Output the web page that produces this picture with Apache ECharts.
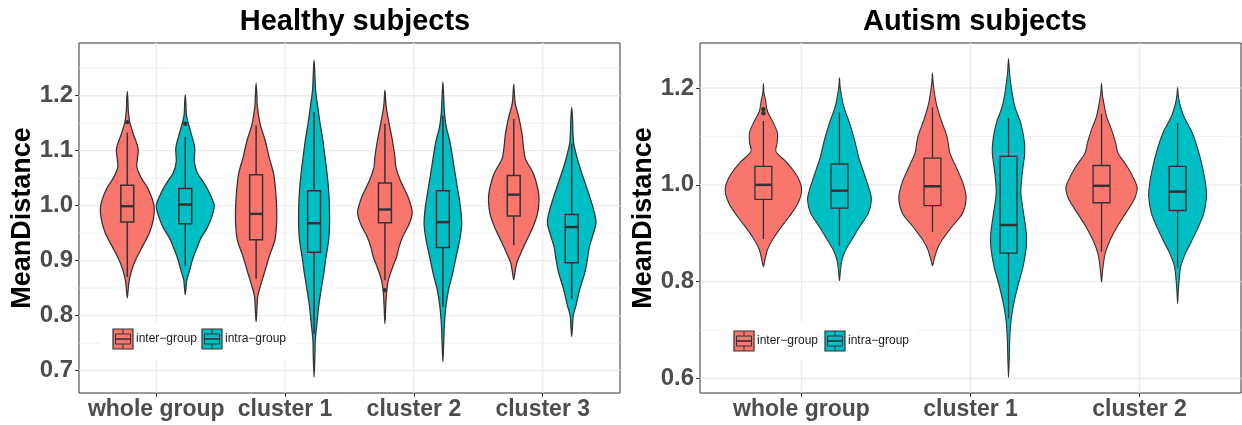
<!DOCTYPE html>
<html>
<head>
<meta charset="utf-8">
<script src="https://cdn.jsdelivr.net/npm/echarts@6/dist/echarts.min.js"></script>
<style>
  html, body { margin: 0; padding: 0; background: #ffffff; }
  #chart { width: 1242px; height: 425px; }
</style>
</head>
<body>
<div id="chart"></div>
<script>
// ---------- data ----------
const healthyCategories = ['whole group', 'cluster 1', 'cluster 2', 'cluster 3'];
const autismCategories = ['whole group', 'cluster 1', 'cluster 2'];
const groupNames = ['inter\u2212group', 'intra\u2212group'];
const groupColors = ['#F8766D', '#00BFC4'];

const healthyTicks = [0.7, 0.8, 0.9, 1.0, 1.1, 1.2];
const healthyMinorTicks = [0.75, 0.85, 0.95, 1.05, 1.15, 1.25];
const autismTicks = [0.6, 0.8, 1.0, 1.2];
const autismMinorTicks = [0.7, 0.9, 1.1];

// box statistics per category: [lower whisker, Q1, median, Q3, upper whisker]
const healthyInterStats = [
  [0.870, 0.970, 0.999, 1.037, 1.133],
  [0.867, 0.938, 0.985, 1.056, 1.146],
  [0.864, 0.969, 0.993, 1.041, 1.149],
  [0.928, 0.981, 1.020, 1.055, 1.158]
];
const healthyIntraStats = [
  [0.890, 0.967, 1.002, 1.031, 1.125],
  [0.767, 0.915, 0.968, 1.027, 1.170],
  [0.816, 0.924, 0.970, 1.027, 1.164],
  [0.831, 0.896, 0.961, 0.984, 1.113]
];
const autismInterStats = [
  [0.888, 0.970, 1.000, 1.038, 1.132],
  [0.903, 0.957, 0.997, 1.055, 1.160],
  [0.862, 0.963, 0.998, 1.040, 1.147]
];
const autismIntraStats = [
  [0.874, 0.952, 0.988, 1.043, 1.150],
  [0.724, 0.859, 0.917, 1.059, 1.138],
  [0.828, 0.947, 0.986, 1.038, 1.128]
];

// outlying points
const healthyInterOutliers = [[1.152], [], [0.846], []];
const healthyIntraOutliers = [[1.149], [], [], []];
const autismInterOutliers = [[1.148, 1.156], [], []];
const autismIntraOutliers = [[], [], []];

// violin density profiles: [MeanDistance, half width in hundredths of a category]
const healthyInterDensity = [
  [[1.208,0],[1.19,0.5],[1.175,0.7],[1.152,1.9],[1.13,4.7],[1.11,7.8],[1.10,8.5],[1.085,7.8],[1.07,7.4],[1.05,10.9],[1.03,16.3],[1.00,20.7],[0.975,20.2],[0.95,17.1],[0.925,11.6],[0.90,6.2],[0.88,3.1],[0.86,1.2],[0.845,0.6],[0.832,0]],
  [[1.223,0],[1.20,0.6],[1.182,0.9],[1.149,3.1],[1.119,7.0],[1.088,10.1],[1.058,13.6],[1.028,15.1],[0.998,15.9],[0.967,15.9],[0.937,14.5],[0.907,10.1],[0.876,6.2],[0.852,3.1],[0.834,1.2],[0.81,0.6],[0.788,0]],
  [[1.210,0],[1.19,0.6],[1.176,1.2],[1.149,3.3],[1.119,5.8],[1.088,7.8],[1.07,8.5],[1.046,11.9],[1.016,17.9],[0.988,21.2],[0.967,18.9],[0.943,13.7],[0.925,11.0],[0.907,9.1],[0.888,6.0],[0.864,2.6],[0.84,1.2],[0.815,0.6],[0.785,0]],
  [[1.221,0],[1.20,0.6],[1.185,1.2],[1.161,3.9],[1.131,6.4],[1.101,7.8],[1.085,9.1],[1.058,15.3],[1.028,18.9],[1.01,19.6],[0.985,18.4],[0.961,14.9],[0.937,10.1],[0.913,5.4],[0.895,2.3],[0.876,0.8],[0.865,0]]
];
const healthyIntraDensity = [
  [[1.202,0],[1.185,0.5],[1.165,0.9],[1.15,2.3],[1.13,4.7],[1.11,7.0],[1.10,7.4],[1.08,7.0],[1.06,9.3],[1.04,14.8],[1.02,19.4],[1.00,22.5],[0.98,20.6],[0.96,17.1],[0.94,12.0],[0.92,8.5],[0.90,5.4],[0.88,3.1],[0.865,1.2],[0.85,0.6],[0.838,0]],
  [[1.265,0],[1.24,0.6],[1.21,1.2],[1.179,2.9],[1.149,4.7],[1.119,6.8],[1.088,8.5],[1.058,10.1],[1.028,11.3],[0.998,11.9],[0.967,12.0],[0.937,11.3],[0.907,9.3],[0.876,7.5],[0.846,5.4],[0.816,3.5],[0.785,2.2],[0.755,0.9],[0.724,0.6],[0.688,0]],
  [[1.225,0],[1.20,0.6],[1.17,1.2],[1.143,2.6],[1.119,5.2],[1.088,7.5],[1.058,9.5],[1.028,11.6],[0.998,13.6],[0.967,14.6],[0.937,13.0],[0.907,10.3],[0.876,7.5],[0.846,4.3],[0.816,2.3],[0.785,1.2],[0.755,0.7],[0.716,0]],
  [[1.179,0],[1.16,0.6],[1.137,0.9],[1.113,1.6],[1.082,4.8],[1.052,8.8],[1.022,13.2],[0.992,17.1],[0.970,18.9],[0.949,16.8],[0.925,13.7],[0.903,12.2],[0.879,10.3],[0.849,6.4],[0.818,3.3],[0.80,1.2],[0.78,0.6],[0.762,0]]
];
const autismInterDensity = [
  [[1.209,0],[1.19,0.3],[1.176,1.2],[1.152,2.4],[1.128,5.9],[1.107,8.3],[1.086,8.1],[1.069,7.4],[1.045,14.2],[1.017,20.1],[0.99,22.6],[0.962,20.4],[0.934,15.2],[0.907,9.3],[0.886,5.3],[0.866,2.4],[0.845,0.9],[0.831,0]],
  [[1.231,0],[1.215,0.3],[1.197,0.9],[1.169,2.2],[1.134,5.1],[1.10,8.6],[1.066,10.3],[1.038,13.8],[1.003,18.1],[0.972,19.9],[0.941,17.7],[0.914,11.6],[0.886,5.7],[0.866,2.7],[0.845,0.9],[0.833,0]],
  [[1.21,0],[1.19,0.4],[1.172,1.2],[1.141,3.0],[1.114,5.9],[1.086,8.4],[1.066,9.7],[1.038,15.2],[1.01,19.5],[0.993,21.1],[0.969,19.2],[0.941,14.2],[0.914,9.3],[0.886,5.1],[0.859,2.2],[0.831,0.9],[0.81,0.3],[0.799,0]]
];
const autismIntraDensity = [
  [[1.221,0],[1.205,0.3],[1.19,0.9],[1.162,2.5],[1.128,5.9],[1.093,8.9],[1.059,11.2],[1.024,14.5],[0.99,17.7],[0.969,18.9],[0.941,17.0],[0.914,12.0],[0.886,7.2],[0.866,3.7],[0.845,1.5],[0.824,0.6],[0.802,0]],
  [[1.261,0],[1.231,0.6],[1.197,1.8],[1.162,3.7],[1.128,7.2],[1.093,9.2],[1.066,9.6],[1.024,8.1],[0.983,7.3],[0.941,8.9],[0.90,10.5],[0.872,10.5],[0.831,8.6],[0.79,5.4],[0.748,2.7],[0.714,1.3],[0.679,0.7],[0.638,0.4],[0.602,0]],
  [[1.201,0],[1.185,0.4],[1.169,1.2],[1.141,3.7],[1.107,8.7],[1.072,12.1],[1.038,14.6],[1.003,16.5],[0.976,17.1],[0.941,15.5],[0.907,11.5],[0.879,7.6],[0.859,4.7],[0.831,1.8],[0.803,0.9],[0.78,0.4],[0.755,0]]
];

// ---------- styling ----------
const FONT = "'Liberation Sans', Arial, Helvetica, sans-serif";
const INK = '#333333';
const GRID_COLOR = '#EBEBEB';
const DODGE = 0.225;      // offset of each group from the category centre
const BOX_HALF = 0.05;    // half box width, in category units

function violinSeries(gridIndex, stats, density, outliers, offset, color, name, lineScale) {
  return {
    type: 'custom',
    name: name,
    xAxisIndex: gridIndex,
    yAxisIndex: gridIndex,
    z: 3,
    silent: true,
    data: stats.map((s, i) => [i + 1 + offset].concat(s)),
    encode: { x: 0, y: [1, 2, 3, 4, 5] },
    renderItem: function (params, api) {
      const i = params.dataIndex;
      const x = api.value(0);
      const lo = api.value(1), q1 = api.value(2), med = api.value(3), q3 = api.value(4), hi = api.value(5);
      const prof = density[i];
      const right = prof.map(p => api.coord([x + p[1] / 100, p[0]]));
      const left = prof.slice(1, -1).reverse().map(p => api.coord([x - p[1] / 100, p[0]]));
      const pts = right.concat(left);
      const cx = api.coord([x, med])[0];
      const tl = api.coord([x - BOX_HALF, q3]);
      const br = api.coord([x + BOX_HALF, q1]);
      const yMed = api.coord([x, med])[1];
      const yHi = api.coord([x, hi])[1];
      const yLo = api.coord([x, lo])[1];
      const lw = 1.1 * lineScale;
      const children = [
        { type: 'polygon', shape: { points: pts, smooth: 0.3 },
          style: { fill: color, stroke: INK, lineWidth: lw } },
        { type: 'line', shape: { x1: cx, y1: yHi, x2: cx, y2: tl[1] },
          style: { stroke: INK, lineWidth: 1.3 * lineScale } },
        { type: 'line', shape: { x1: cx, y1: br[1], x2: cx, y2: yLo },
          style: { stroke: INK, lineWidth: 1.3 * lineScale } },
        { type: 'rect', shape: { x: tl[0], y: tl[1], width: br[0] - tl[0], height: br[1] - tl[1] },
          style: { fill: color, stroke: INK, lineWidth: 1.3 * lineScale } },
        { type: 'line', shape: { x1: tl[0], y1: yMed, x2: br[0], y2: yMed },
          style: { stroke: INK, lineWidth: 2.5 } }
      ];
      (outliers[i] || []).forEach(v => {
        const p = api.coord([x, v]);
        children.push({ type: 'circle', shape: { cx: p[0], cy: p[1], r: 2.2 }, style: { fill: INK } });
      });
      return { type: 'group', children: children };
    }
  };
}

function gridLineSeries(gridIndex, categories, ticks, minorTicks) {
  const data = []
    .concat(minorTicks.map(v => [1, v, 0]))
    .concat(ticks.map(v => [1, v, 1]))
    .concat(categories.map((c, i) => [i + 1, 1, 2]));
  return {
    type: 'custom',
    xAxisIndex: gridIndex,
    yAxisIndex: gridIndex,
    z: 1,
    silent: true,
    data: data,
    renderItem: function (params, api) {
      const cs = params.coordSys;
      const kind = api.value(2);
      if (kind === 2) {
        const px = api.coord([api.value(0), api.value(1)])[0];
        return { type: 'line', shape: { x1: px, y1: cs.y, x2: px, y2: cs.y + cs.height },
                 style: { stroke: GRID_COLOR, lineWidth: 1.3 } };
      }
      const py = api.coord([api.value(0), api.value(1)])[1];
      return { type: 'line', shape: { x1: cs.x, y1: py, x2: cs.x + cs.width, y2: py },
               style: { stroke: GRID_COLOR, lineWidth: kind === 1 ? 1.3 : 0.8 } };
    }
  };
}

function xAxisFor(gridIndex, categories) {
  const pos = categories.map((c, i) => i + 1);
  return {
    gridIndex: gridIndex,
    type: 'value',
    min: 0.4,
    max: categories.length + 0.6,
    axisLine: { show: false },
    splitLine: { show: false },
    axisTick: { show: true, customValues: pos, length: 4, lineStyle: { color: INK, width: 1 } },
    axisLabel: {
      customValues: pos,
      formatter: v => categories[Math.round(v) - 1],
      fontFamily: FONT, fontSize: 23, fontWeight: 'bold', color: '#4D4D4D', margin: 5
    }
  };
}

function yAxisFor(gridIndex, ticks, min, max) {
  return {
    gridIndex: gridIndex,
    type: 'value',
    min: min,
    max: max,
    name: 'MeanDistance',
    nameLocation: 'middle',
    nameGap: 41,
    nameTextStyle: { fontFamily: FONT, fontSize: 27, fontWeight: 'bold', color: '#000000' },
    axisLine: { show: false },
    splitLine: { show: false },
    axisTick: { show: true, customValues: ticks, length: 4, lineStyle: { color: INK, width: 1 } },
    axisLabel: {
      customValues: ticks,
      formatter: v => v.toFixed(1),
      fontFamily: FONT, fontSize: 24, fontWeight: 'bold', color: '#4D4D4D', margin: 6
    }
  };
}

// legend drawn inside each panel
function legendGraphic(bg, keyXs, keyY) {
  const els = [{
    type: 'rect', z: 50,
    shape: { x: bg[0], y: bg[1], width: bg[2], height: bg[3] },
    style: { fill: '#ffffff' }
  }];
  groupNames.forEach((name, g) => {
    const x = keyXs[g], y = keyY, s = 20;
    els.push({ type: 'rect', z: 51, shape: { x: x, y: y, width: s, height: s },
               style: { fill: groupColors[g], stroke: INK, lineWidth: 1.2 } });
    els.push({ type: 'rect', z: 52, shape: { x: x + 2.5, y: y + 5, width: s - 5, height: 10 },
               style: { fill: 'none', stroke: INK, lineWidth: 1 } });
    els.push({ type: 'line', z: 52, shape: { x1: x + 2.5, y1: y + 10, x2: x + s - 2.5, y2: y + 10 },
               style: { stroke: INK, lineWidth: 1.6 } });
    els.push({ type: 'line', z: 52, shape: { x1: x + 10, y1: y, x2: x + 10, y2: y + 5 },
               style: { stroke: INK, lineWidth: 1 } });
    els.push({ type: 'line', z: 52, shape: { x1: x + 10, y1: y + 15, x2: x + 10, y2: y + 20 },
               style: { stroke: INK, lineWidth: 1 } });
    els.push({ type: 'text', z: 52, x: x + s + 3, y: y + s / 2,
               style: { text: name, fontFamily: FONT, fontSize: 12, fill: '#1A1A1A',
                        textVerticalAlign: 'middle', verticalAlign: 'middle' } });
  });
  return els;
}

const chart = echarts.init(document.getElementById('chart'), null, { renderer: 'canvas' });

chart.setOption({
  animation: false,
  backgroundColor: '#ffffff',
  title: [
    { text: 'Healthy subjects', left: 350, top: 2, textAlign: 'center',
      textStyle: { fontFamily: FONT, fontSize: 29, fontWeight: 'bold', color: '#000000' } },
    { text: 'Autism subjects', left: 970, top: 2, textAlign: 'center',
      textStyle: { fontFamily: FONT, fontSize: 29, fontWeight: 'bold', color: '#000000' } }
  ],
  grid: [
    { left: 79, top: 43, width: 541, height: 350, show: true, borderColor: INK, borderWidth: 1, backgroundColor: 'transparent' },
    { left: 700, top: 43, width: 541, height: 350, show: true, borderColor: INK, borderWidth: 1, backgroundColor: 'transparent' }
  ],
  xAxis: [xAxisFor(0, healthyCategories), xAxisFor(1, autismCategories)],
  yAxis: [yAxisFor(0, healthyTicks, 0.659, 1.296), yAxisFor(1, autismTicks, 0.570, 1.293)],
  series: [
    gridLineSeries(0, healthyCategories, healthyTicks, healthyMinorTicks),
    gridLineSeries(1, autismCategories, autismTicks, autismMinorTicks),
    violinSeries(0, healthyInterStats, healthyInterDensity, healthyInterOutliers, -DODGE, groupColors[0], groupNames[0], 1.15),
    violinSeries(0, healthyIntraStats, healthyIntraDensity, healthyIntraOutliers, DODGE, groupColors[1], groupNames[1], 1.15),
    violinSeries(1, autismInterStats, autismInterDensity, autismInterOutliers, -DODGE, groupColors[0], groupNames[0], 1),
    violinSeries(1, autismIntraStats, autismIntraDensity, autismIntraOutliers, DODGE, groupColors[1], groupNames[1], 1)
  ],
  graphic: [].concat(
    legendGraphic([100, 322, 195, 38], [113, 202], 329),
    legendGraphic([722, 322, 196, 38], [734, 825], 331)
  )
});
</script>
</body>
</html>
